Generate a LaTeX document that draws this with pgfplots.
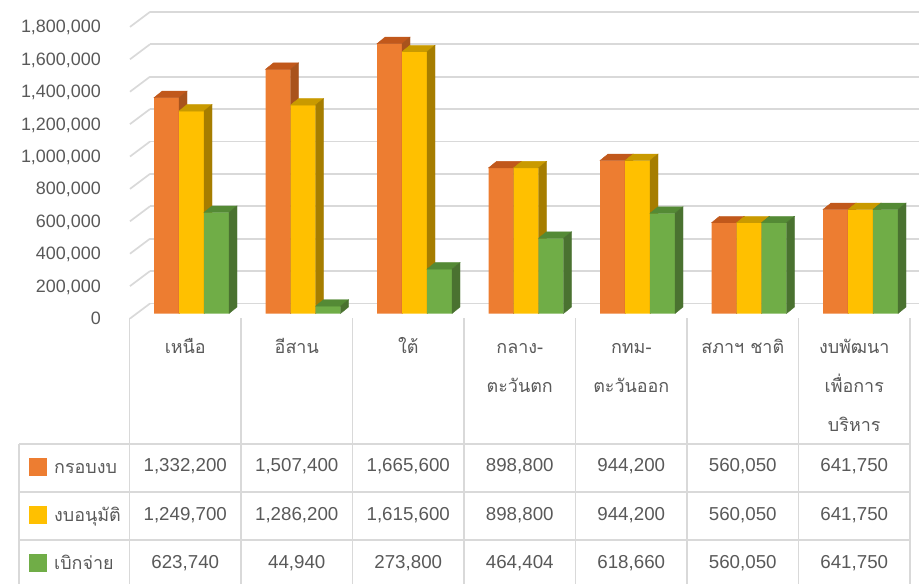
\documentclass[border=0pt]{standalone}
\usepackage{pgfplots}
\pgfplotsset{compat=1.18}
\usepackage{pgfplotstable}
\usepackage{fontspec}
\setmainfont{Liberation Sans}
\newfontfamily\thai[Script=Thai]{Loma}

\definecolor{txt}{HTML}{595959}
\definecolor{grd}{HTML}{D9D9D9}
\definecolor{orF}{HTML}{ED7D31}
\definecolor{orT}{HTML}{C1581B}
\definecolor{orS}{HTML}{A9531C}
\definecolor{yeF}{HTML}{FFC000}
\definecolor{yeT}{HTML}{C99A00}
\definecolor{yeS}{HTML}{A67D00}
\definecolor{grF}{HTML}{70AD47}
\definecolor{grT}{HTML}{548A35}
\definecolor{grS}{HTML}{4A7230}

% budget per region: frame, approved, disbursed
\pgfplotstableread{
cat krob    anumat  bik
1   1332200 1249700 623740
2   1507400 1286200 44940
3   1665600 1615600 273800
4   898800  898800  464404
5   944200  944200  618660
6   560050  560050  560050
7   641750  641750  641750
}\budget

\pgfkeys{/pgf/number format/.cd,fixed,1000 sep={,},assume math mode=true}
\pgfdeclareplotmark{nothing}{}

\pgfplotsset{
  front/.style n args={2}{ybar, bar width=25bp, bar shift=#1, fill=#2, draw=none},
  faces/.style n args={3}{only marks, scatter, mark=nothing,
    visualization depends on={rawy \as \barval},
    scatter/@pre marker code/.code={%
      \fill[#2] (#1-12.5bp,0pt) -- (#1+12.5bp,0pt) -- ++(8bp,6.5bp) -- ++(-25bp,0pt) -- cycle;
      \fill[#3] (#1+12.5bp,0pt) -- ++(8bp,6.5bp) -- ++(axis direction cs:0,-\barval) -- ++(-8bp,-6.5bp) -- cycle;
    },
    scatter/@post marker code/.code={}},
}

\begin{document}
\begin{tikzpicture}[font=\fontsize{18}{22}\selectfont, text=txt]

% back wall with gridlines
\begin{axis}[
  at={(150bp,-303.5bp)}, anchor=south west,
  scale only axis, width=769bp, height=291.6bp,
  xmin=0, xmax=1, ymin=0, ymax=1800000,
  clip=false,
  axis line style={draw=none},
  xtick=\empty,
  ytick={0,200000,400000,600000,800000,1000000,1200000,1400000,1600000,1800000},
  major tick length=0pt,
  ymajorgrids, grid style={grd, line width=1.7bp},
  scaled y ticks=false,
  yticklabel style={/pgf/number format/fixed, /pgf/number format/assume math mode=true,
    text=txt, anchor=base east, inner sep=0pt, xshift=-49bp, yshift=-21bp},
]
\pgfplotsinvokeforeach{0,200000,400000,600000,800000,1000000,1200000,1400000,1600000,1800000}{
  \draw[grd, line width=1.7bp] (axis cs:0,#1) -- ++(-20bp,-15bp);
}
\end{axis}

% bars
\begin{axis}[
  at={(135.75bp,-313.5bp)}, anchor=south west,
  scale only axis, width=780.5bp, height=291.6bp,
  xmin=0.5, xmax=7.5, ymin=0, ymax=1800000,
  hide axis, clip mode=individual,
]
\addplot[front={-25bp}{orF}] table[x=cat, y=krob]{\budget};
\addplot[faces={-25bp}{orT}{orS}] table[x=cat, y=krob]{\budget};
\addplot[front={0bp}{yeF}] table[x=cat, y=anumat]{\budget};
\addplot[faces={0bp}{yeT}{yeS}] table[x=cat, y=anumat]{\budget};
\addplot[front={25bp}{grF}] table[x=cat, y=bik]{\budget};
\addplot[faces={25bp}{grT}{grS}] table[x=cat, y=bik]{\budget};
\end{axis}

% data table
\begin{scope}[grd, line width=1.8bp]
  \foreach \k in {0,...,7} {
    \pgfmathsetmacro\xx{129.5+111.5*\k}
    \draw (\xx bp,-318bp) -- (\xx bp,-590bp);
  }
  \draw (19bp,-444bp) -- (19bp,-590bp);
  \foreach \yy in {444,492,540} \draw (19bp,-\yy bp) -- (910bp,-\yy bp);
\end{scope}

\foreach \k/\a/\b/\c in {0/เหนือ/{}/{}, 1/อีสาน/{}/{}, 2/ใต้/{}/{}, 3/กลาง-/ตะวันตก/{},
    4/กทม-/ตะวันออก/{}, 5/สภาฯ ชาติ/{}/{}, 6/งบพัฒนา/เพื่อการ/บริหาร} {
  \pgfmathsetmacro\xx{185.25+111.5*\k}
  \node[anchor=base, inner sep=0pt] at (\xx bp,-353bp) {\thai\a};
  \node[anchor=base, inner sep=0pt] at (\xx bp,-392bp) {\thai\b};
  \node[anchor=base, inner sep=0pt] at (\xx bp,-431bp) {\thai\c};
  \begin{scope}[font=\fontsize{18.8}{22}\selectfont]
  \pgfplotstablegetelem{\k}{krob}\of\budget
  \node[anchor=base, inner sep=0pt] at (\xx bp,-471.5bp) {\pgfmathprintnumber{\pgfplotsretval}};
  \pgfplotstablegetelem{\k}{anumat}\of\budget
  \node[anchor=base, inner sep=0pt] at (\xx bp,-520bp) {\pgfmathprintnumber{\pgfplotsretval}};
  \pgfplotstablegetelem{\k}{bik}\of\budget
  \node[anchor=base, inner sep=0pt] at (\xx bp,-568bp) {\pgfmathprintnumber{\pgfplotsretval}};
  \end{scope}
}

% legend keys in the table
\fill[orF] (29bp,-458bp) rectangle (47bp,-476bp);
\fill[yeF] (29bp,-506bp) rectangle (47bp,-524bp);
\fill[grF] (29bp,-554bp) rectangle (47bp,-572bp);
\node[anchor=base west, inner sep=0pt] at (54bp,-473bp) {\thai กรอบงบ};
\node[anchor=base west, inner sep=0pt] at (54bp,-521bp) {\thai งบอนุมัติ};
\node[anchor=base west, inner sep=0pt] at (54bp,-569bp) {\thai เบิกจ่าย};

\pgfresetboundingbox
\path[use as bounding box] (0,0) rectangle (919bp,-584bp);
\end{tikzpicture}
\end{document}
